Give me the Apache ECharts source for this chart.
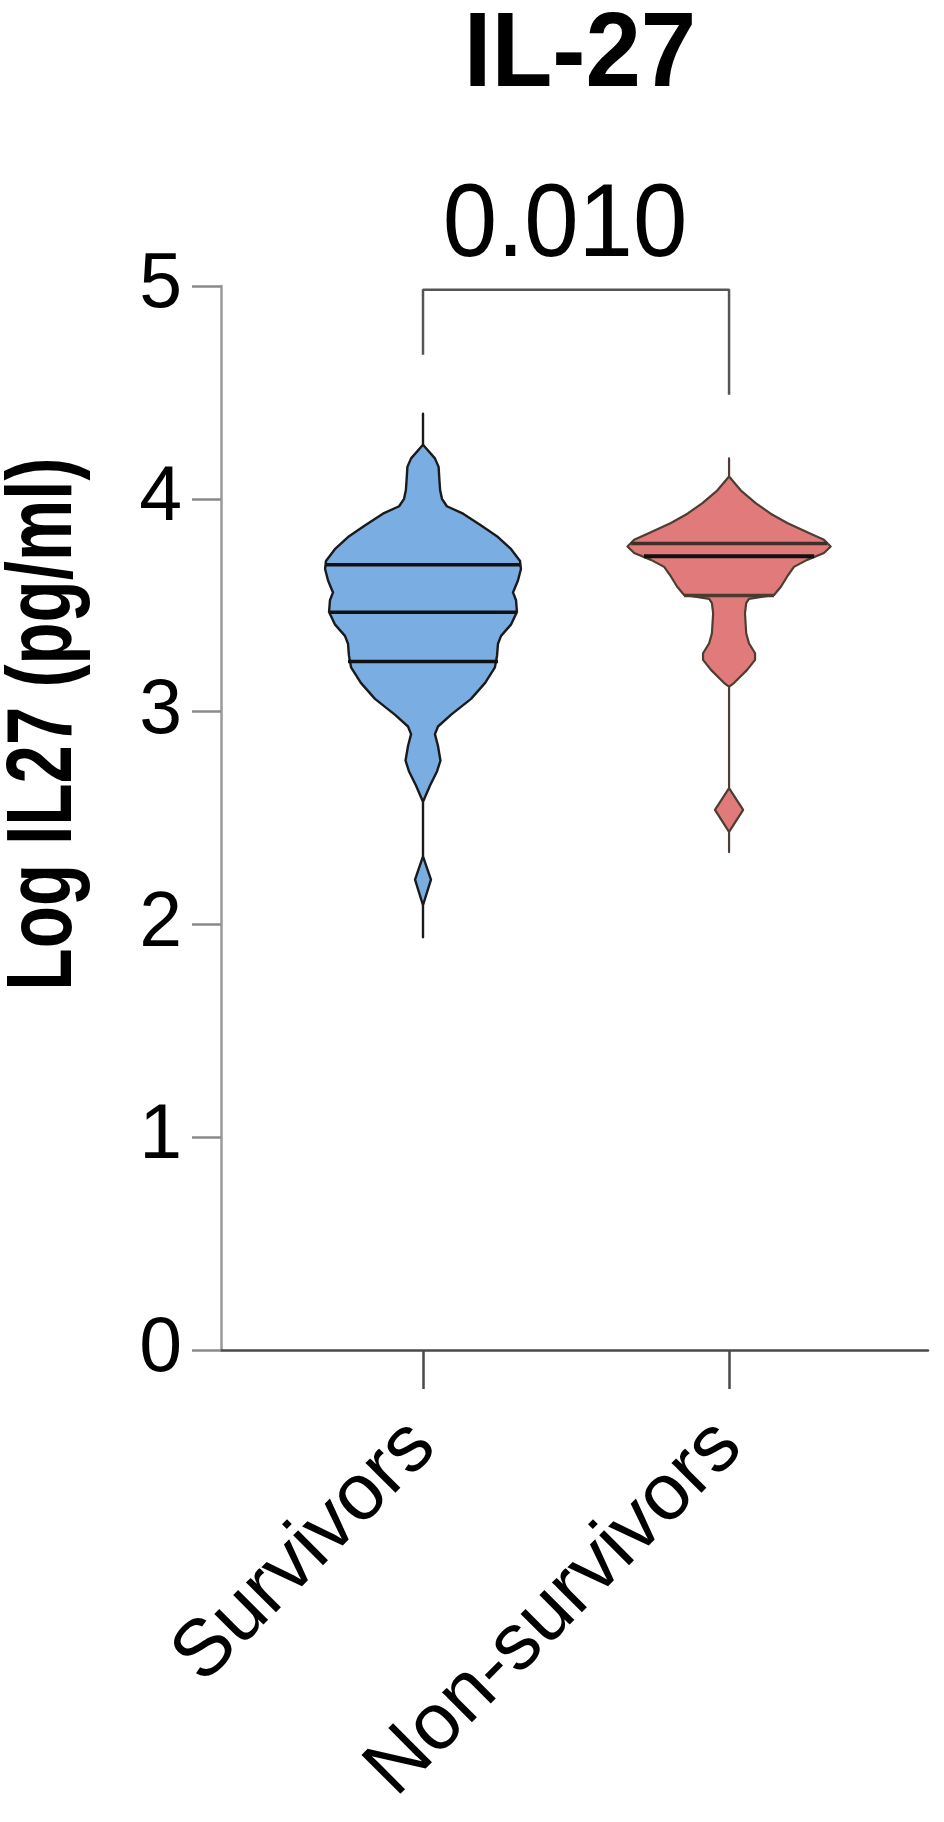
<!DOCTYPE html>
<html>
<head>
<meta charset="utf-8">
<script src="https://cdn.jsdelivr.net/npm/echarts@6/dist/echarts.min.js"></script>
<style>
  html, body { margin: 0; padding: 0; background: #ffffff; }
  #chart { width: 944px; height: 1822px; }
</style>
</head>
<body>
<div id="chart"></div>
<script>
// ---------------- data ----------------
const categories = ['Survivors', 'Non-survivors'];
const titleText = 'IL-27';
const yAxisTitle = 'Log IL27 (pg/ml)';
const yTicks = [0, 1, 2, 3, 4, 5];
const pValueText = '0.010';

// violin outline of Survivors: log values and density half-widths (category units)
const survivorsLogValues = [4.40, 4.254, 4.19, 4.15, 4.08, 4.04, 4.00, 3.965, 3.93, 3.874, 3.82, 3.763, 3.708, 3.67, 3.615, 3.56, 3.523, 3.468, 3.41, 3.356, 3.319, 3.264, 3.208, 3.135, 3.06, 2.986, 2.93, 2.894, 2.838, 2.77, 2.72, 2.653, 2.576, 2.32, 2.21, 2.09, 1.94];
const survivorsDensity = [0, 0, 0.039, 0.051, 0.054, 0.056, 0.062, 0.078, 0.131, 0.190, 0.245, 0.288, 0.317, 0.320, 0.310, 0.294, 0.304, 0.307, 0.288, 0.255, 0.245, 0.242, 0.235, 0.203, 0.157, 0.092, 0.049, 0.039, 0.049, 0.057, 0.046, 0.023, 0, 0, 0.026, 0, 0];
const survivorsQuartiles = [3.236, 3.467, 3.69];
const survivorsQuartileDensity = [0.245, 0.304, 0.317];

// violin outline of Non-survivors
const nonSurvivorsLogValues = [4.19, 4.105, 4.04, 3.98, 3.93, 3.886, 3.839, 3.807, 3.776, 3.745, 3.713, 3.68, 3.635, 3.588, 3.548, 3.53, 3.51, 3.462, 3.368, 3.321, 3.274, 3.243, 3.196, 3.134, 3.117, 2.64, 2.538, 2.435, 2.34];
const nonSurvivorsDensity = [0, 0, 0.038, 0.087, 0.136, 0.190, 0.261, 0.310, 0.332, 0.310, 0.255, 0.212, 0.190, 0.170, 0.147, 0.065, 0.056, 0.052, 0.056, 0.065, 0.085, 0.085, 0.059, 0.016, 0, 0, 0.046, 0, 0];
const nonSurvivorsQuartiles = [3.545, 3.73, 3.79];
const nonSurvivorsQuartileDensity = [0.147, 0.278, 0.320];

// significance bracket (category position, log value)
const bracketX = [0, 0, 1, 1];
const bracketY = [4.677, 4.982, 4.982, 4.489];

// ---------------- styling ----------------
const FONT = '"Liberation Sans", Arial, Helvetica, sans-serif';
const violins = [
  { values: survivorsLogValues, density: survivorsDensity, q: survivorsQuartiles, qd: survivorsQuartileDensity,
    fill: '#7aade2', stroke: '#1a1a1a', lw: 2.4, qColors: ['#111', '#111', '#111'], qWidth: [3.5, 3.5, 3.5] },
  { values: nonSurvivorsLogValues, density: nonSurvivorsDensity, q: nonSurvivorsQuartiles, qd: nonSurvivorsQuartileDensity,
    fill: '#e17b7b', stroke: '#4d3d32', lw: 2.2, qColors: ['#4a3a30', '#111', '#3f2f26'], qWidth: [3.5, 4, 3.5] }
];

function renderViolin(params, api) {
  const i = api.value(0);
  const v = violins[i];
  const pts = [];
  for (let k = 0; k < v.values.length; k++) {
    pts.push(api.coord([i + v.density[k], v.values[k]]));
  }
  for (let k = v.values.length - 1; k >= 0; k--) {
    pts.push(api.coord([i - v.density[k], v.values[k]]));
  }
  const children = [{
    type: 'polygon',
    shape: { points: pts },
    style: { fill: v.fill, stroke: v.stroke, lineWidth: v.lw, lineJoin: 'round' }
  }];
  for (let k = 0; k < v.q.length; k++) {
    const a = api.coord([i - v.qd[k], v.q[k]]);
    const b = api.coord([i + v.qd[k], v.q[k]]);
    children.push({
      type: 'line',
      shape: { x1: a[0], y1: a[1], x2: b[0], y2: b[1] },
      style: { stroke: v.qColors[k], lineWidth: v.qWidth[k] }
    });
  }
  return { type: 'group', children: children };
}

const chart = echarts.init(document.getElementById('chart'), null, { renderer: 'canvas', width: 944, height: 1822 });

const option = {
  animation: false,
  backgroundColor: '#ffffff',
  textStyle: { fontFamily: FONT },
  grid: { left: 221, right: 16, top: 286, bottom: 472, containLabel: false, outerBoundsMode: 'none' },
  xAxis: {
    type: 'value',
    min: -0.66,
    max: 1.65,
    splitLine: { show: false },
    axisLine: { show: true, onZero: false, lineStyle: { color: '#4a4a4a', width: 2.5 } },
    axisTick: { show: true, customValues: [0, 1], length: 39, lineStyle: { color: '#4a4a4a', width: 2.5 } },
    axisLabel: {
      show: true,
      customValues: [0, 1],
      formatter: function (val) { return categories[Math.round(val)]; },
      rotate: 45,
      margin: 84,
      fontSize: 80,
      color: '#000',
      fontFamily: FONT
    }
  },
  yAxis: {
    type: 'value',
    min: yTicks[0],
    max: yTicks[yTicks.length - 1],
    interval: 1,
    splitLine: { show: false },
    axisLine: { show: true, onZero: false, lineStyle: { color: '#9a9a9a', width: 2.5 } },
    axisTick: { show: true, length: 29, lineStyle: { color: '#8a8a8a', width: 2.5 } },
    axisLabel: { fontSize: 77, margin: 39, color: '#000', fontFamily: FONT }
  },
  series: [
    {
      type: 'custom',
      renderItem: renderViolin,
      data: categories.map(function (c, i) { return [i]; }),
      encode: { x: 0 },
      clip: false,
      z: 3
    },
    {
      type: 'line',
      data: bracketX.map(function (x, i) { return [x, bracketY[i]]; }),
      symbol: 'none',
      lineStyle: { color: '#555555', width: 2.5 },
      z: 2
    }
  ],
  graphic: [
    {
      type: 'text',
      x: 580, y: 57,
      scaleX: 0.94,
      style: { text: titleText, font: 'bold 106px ' + FONT, fill: '#000', align: 'center', verticalAlign: 'middle' }
    },
    {
      type: 'text',
      x: 565, y: 227,
      scaleX: 0.94,
      style: { text: pValueText, font: '104px ' + FONT, fill: '#000', align: 'center', verticalAlign: 'middle' }
    },
    {
      type: 'text',
      x: 46, y: 724,
      rotation: Math.PI / 2,
      scaleX: 0.75,
      style: { text: yAxisTitle, font: 'bold 92px ' + FONT, fill: '#000', align: 'center', verticalAlign: 'middle' }
    }
  ]
};
chart.setOption(option);
</script>
</body>
</html>
